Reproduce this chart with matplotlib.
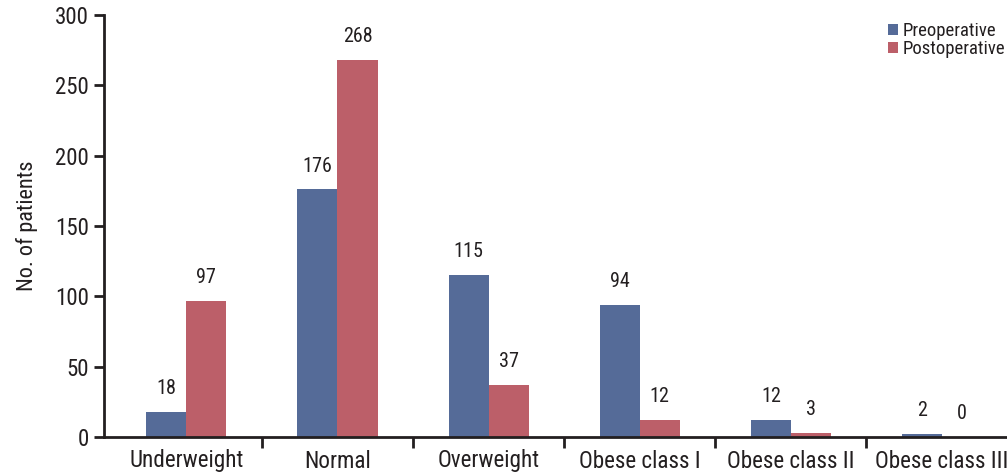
import numpy as np
import matplotlib
matplotlib.use("Agg")
import matplotlib.pyplot as plt
from matplotlib import font_manager

categories = ["Underweight", "Normal", "Overweight", "Obese class I", "Obese class II", "Obese class III"]
preoperative = [18, 176, 115, 94, 12, 2]
postoperative = [97, 268, 37, 12, 3, 0]

# condensed font like the reference, if there is one
names = set(f.name for f in font_manager.fontManager.ttflist)
fam = "DejaVu Sans"
for cand in ["Roboto Condensed", "Liberation Sans Narrow", "Nimbus Sans Narrow",
             "Archivo Narrow", "Asap Condensed", "Barlow Semi Condensed"]:
    if cand in names:
        fam = cand
        break
plt.rcParams['font.family'] = [fam, 'DejaVu Sans']

dark = "#231f20"
blue = "#556b98"
red = "#bc5f69"

fig = plt.figure(figsize=(10.07, 4.75), dpi=100)
ax = fig.add_axes([104 / 1007, 38 / 475, 903 / 1007, 422 / 475])

x = np.arange(len(categories))
w = 0.265
b1 = ax.bar(x - w / 2, preoperative, w, color=blue, label="Preoperative")
b2 = ax.bar(x + w / 2, postoperative, w, color=red, label="Postoperative")

for bars, vals in [(b1, preoperative), (b2, postoperative)]:
    for r, v in zip(bars, vals):
        ax.annotate(str(v), (r.get_x() + r.get_width() / 2, v), xytext=(0, 10),
                    textcoords="offset points", ha="center", va="bottom",
                    fontsize=14.5, color=dark)

ax.set_xlim(-0.545, 5.43)
ax.set_ylim(0, 300)
ax.set_yticks(np.arange(0, 301, 50))
ax.tick_params(axis="y", labelsize=16.5, colors=dark, length=7, width=2, direction="out", pad=4)

# category boundaries as ticks, labels on minor ticks
ax.set_xticks(x[:-1] + 0.5)
ax.set_xticklabels([])
ax.tick_params(axis="x", which="major", length=8, width=2, color=dark, direction="out")
ax.set_xticks(x, minor=True)
ax.set_xticklabels(categories, minor=True)
ax.tick_params(axis="x", which="minor", length=0, labelsize=16.7, labelcolor=dark, pad=9)

for s in ["top", "right"]:
    ax.spines[s].set_visible(False)
for s in ["left", "bottom"]:
    ax.spines[s].set_linewidth(2)
    ax.spines[s].set_color(dark)

ax.set_ylabel("No. of patients", fontsize=16, color=dark, labelpad=12)

ax.legend(loc="upper right", bbox_to_anchor=(1.0, 0.987), frameon=False, fontsize=13.5,
          handlelength=0.55, handleheight=0.55, handletextpad=0.25, labelspacing=0.0,
          borderpad=0.1, borderaxespad=0.0, labelcolor=dark)

fig.savefig("out.png", dpi=100)
